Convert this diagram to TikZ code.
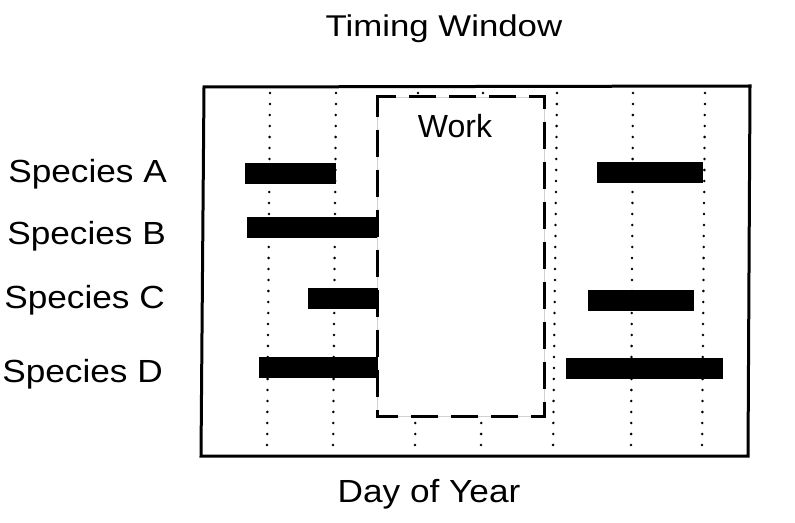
\documentclass[tikz,border=0pt]{standalone}
\usepackage{fontspec}
\setmainfont{Liberation Sans}
\begin{document}
\begin{tikzpicture}[x=1bp,y=-1bp,
  lab/.style={inner sep=0pt, font=\fontsize{32bp}{38bp}\selectfont, transform shape, xscale=1.1},
  titlelab/.style={inner sep=0pt, font=\fontsize{30bp}{36bp}\selectfont, transform shape, xscale=1.16},
  frameline/.style={line width=3bp, line join=miter},
  dotline/.style={line width=2.8bp, line cap=round, dash pattern=on 0pt off 11bp},
  workbox/.style={line width=3bp, dash pattern=on 27bp off 13bp},
  bar/.style={fill=black}]
\useasboundingbox (0,0) rectangle (795,523);
% title
\node[titlelab, anchor=base] (title) at (444,37) {Timing Window};
% frame
\draw[frameline] (204,87) -- (750,86) -- (748,456) -- (201,456) -- cycle;
% dotted day lines
\draw[dotline] (270,93) -- (267,454);
\draw[dotline] (336,93) -- (333,454);
\draw[dotline] (418,93) -- (415,454);
\draw[dotline] (483,93) -- (481,454);
\draw[dotline] (557,93) -- (553,454);
\draw[dotline] (633,93) -- (631,454);
\draw[dotline] (705,93) -- (702,454);
% work window
\fill[white] (377,97) rectangle (544,416);
\draw[gray!35, line width=0.6bp] (377,97) rectangle (544,416);
\draw[workbox] (377,105) -- (377,97) -- (544,97) -- (544,416) -- (377,416) -- cycle;
\node[inner sep=0pt, font=\fontsize{32bp}{38bp}\selectfont, anchor=base] (work) at (455,138) {Work};
% bars
\path[bar] (245,163) rectangle (336,184);
\path[bar] (597,162) rectangle (703,183);
\path[bar] (247,217) rectangle (377,238);
\path[bar] (308,288) rectangle (378,309);
\path[bar] (588,290) rectangle (694,311);
\path[bar] (259,357) rectangle (378,378);
\path[bar] (566,358) rectangle (723,379);
% species labels
\node[lab, anchor=base east] (spA) at (167,183) {Species A};
\node[lab, anchor=base east] (spB) at (166,245) {Species B};
\node[lab, anchor=base east] (spC) at (165,309) {Species C};
\node[lab, anchor=base east] (spD) at (163,382) {Species D};
% axis label
\node[lab, anchor=base] (xlab) at (429,502) {Day of Year};
\end{tikzpicture}
\end{document}
